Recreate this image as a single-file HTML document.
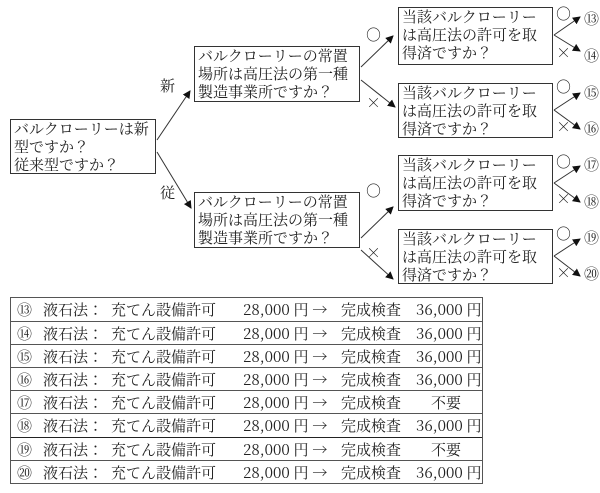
<!DOCTYPE html>
<html><head><meta charset="utf-8"><style>
body{margin:0;width:600px;height:493px;background:#fff;position:relative;overflow:hidden;font-family:"Noto Serif CJK JP","Noto Serif CJK SC","Liberation Serif",serif;color:#222}
.b{position:absolute;border:1px solid #333;box-sizing:border-box;font-size:15px;line-height:18px;padding:0 0 0 3px;white-space:nowrap;overflow:hidden}
.t{position:absolute;font-size:15px;line-height:16px;white-space:nowrap}
.r{position:absolute;left:0;height:23px;width:100%;font-size:15px;line-height:23px;white-space:nowrap}
.r span{position:absolute}
</style></head><body>
<svg width="600" height="493" style="position:absolute;left:0;top:0">
<defs><marker id="a" markerWidth="8" markerHeight="8" refX="7" refY="4" orient="auto" markerUnits="userSpaceOnUse"><path d="M0,0 L8,4 L0,8z" fill="#111"/></marker></defs>
<g stroke="#333" stroke-width="1" fill="none" marker-end="url(#a)">
<line x1="157" y1="140" x2="190" y2="91"/>
<line x1="157" y1="152" x2="191" y2="208"/>
<line x1="361" y1="67" x2="393" y2="36"/>
<line x1="361" y1="80" x2="395" y2="107"/>
<line x1="361" y1="238" x2="393" y2="207"/>
<line x1="361" y1="250" x2="393" y2="279"/>
<line x1="554" y1="35" x2="580" y2="17"/><line x1="554" y1="35" x2="580" y2="51"/>
<line x1="554" y1="110" x2="580" y2="93"/><line x1="554" y1="110" x2="580" y2="129"/>
<line x1="554" y1="183" x2="580" y2="166"/><line x1="554" y1="183" x2="580" y2="202"/>
<line x1="554" y1="256" x2="580" y2="239"/><line x1="554" y1="256" x2="580" y2="276"/>
</g></svg>
<div class="b" style="left:10px;top:119px;width:146px;height:55px">バルクローリーは新<br>型ですか？<br>従来型ですか？</div>
<div class="b" style="left:194px;top:46px;width:166px;height:56px">バルクローリーの常置<br>場所は高圧法の第一種<br>製造事業所ですか？</div>
<div class="b" style="left:194px;top:192px;width:166px;height:56px">バルクローリーの常置<br>場所は高圧法の第一種<br>製造事業所ですか？</div>
<div class="b" style="left:398px;top:7px;width:155px;height:58px">当該バルクローリー<br>は高圧法の許可を取<br>得済ですか？</div>
<div class="b" style="left:398px;top:83px;width:155px;height:55px">当該バルクローリー<br>は高圧法の許可を取<br>得済ですか？</div>
<div class="b" style="left:398px;top:155px;width:155px;height:56px">当該バルクローリー<br>は高圧法の許可を取<br>得済ですか？</div>
<div class="b" style="left:398px;top:229px;width:155px;height:55px">当該バルクローリー<br>は高圧法の許可を取<br>得済ですか？</div>
<div class="t" style="left:160px;top:78px">新</div>
<div class="t" style="left:160px;top:185px">従</div>
<div class="t" style="left:366px;top:27px">○</div>
<div class="t" style="left:366px;top:95px">×</div>
<div class="t" style="left:366px;top:183px">○</div>
<div class="t" style="left:366px;top:245px">×</div>
<div class="t" style="left:556px;top:6px">○</div><div class="t" style="left:556px;top:45px">×</div>
<div class="t" style="left:556px;top:79px">○</div><div class="t" style="left:556px;top:119px">×</div>
<div class="t" style="left:556px;top:154px">○</div><div class="t" style="left:556px;top:191px">×</div>
<div class="t" style="left:556px;top:226px">○</div><div class="t" style="left:556px;top:265px">×</div>
<div class="t" style="left:584px;top:11px">⑬</div><div class="t" style="left:584px;top:48px">⑭</div>
<div class="t" style="left:584px;top:85px">⑮</div><div class="t" style="left:584px;top:121px">⑯</div>
<div class="t" style="left:584px;top:157px">⑰</div><div class="t" style="left:584px;top:194px">⑱</div>
<div class="t" style="left:584px;top:230px">⑲</div><div class="t" style="left:584px;top:266px">⑳</div>
<div style="position:absolute;left:10px;top:297px;width:473px;height:187px;border:1px solid #555;box-sizing:border-box">
<div class="r" style="top:0"><span style="left:6px">⑬</span><span style="left:32px">液石法：</span><span style="left:100px">充てん設備許可</span><span style="left:232px">28,000 円 →</span><span style="left:330px">完成検査</span><span style="left:405px">36,000 円</span></div>
<div class="r" style="top:23px;border-top:1px solid #555"><span style="left:6px">⑭</span><span style="left:32px">液石法：</span><span style="left:100px">充てん設備許可</span><span style="left:232px">28,000 円 →</span><span style="left:330px">完成検査</span><span style="left:405px">36,000 円</span></div>
<div class="r" style="top:46px;border-top:1px solid #555"><span style="left:6px">⑮</span><span style="left:32px">液石法：</span><span style="left:100px">充てん設備許可</span><span style="left:232px">28,000 円 →</span><span style="left:330px">完成検査</span><span style="left:405px">36,000 円</span></div>
<div class="r" style="top:69px;border-top:1px solid #555"><span style="left:6px">⑯</span><span style="left:32px">液石法：</span><span style="left:100px">充てん設備許可</span><span style="left:232px">28,000 円 →</span><span style="left:330px">完成検査</span><span style="left:405px">36,000 円</span></div>
<div class="r" style="top:92px;border-top:1px solid #555"><span style="left:6px">⑰</span><span style="left:32px">液石法：</span><span style="left:100px">充てん設備許可</span><span style="left:232px">28,000 円 →</span><span style="left:330px">完成検査</span><span style="left:420px">不要</span></div>
<div class="r" style="top:115px;border-top:1px solid #555"><span style="left:6px">⑱</span><span style="left:32px">液石法：</span><span style="left:100px">充てん設備許可</span><span style="left:232px">28,000 円 →</span><span style="left:330px">完成検査</span><span style="left:405px">36,000 円</span></div>
<div class="r" style="top:139px;border-top:1px solid #222"><span style="left:6px">⑲</span><span style="left:32px">液石法：</span><span style="left:100px">充てん設備許可</span><span style="left:232px">28,000 円 →</span><span style="left:330px">完成検査</span><span style="left:420px">不要</span></div>
<div class="r" style="top:162px;border-top:1px solid #555"><span style="left:6px">⑳</span><span style="left:32px">液石法：</span><span style="left:100px">充てん設備許可</span><span style="left:232px">28,000 円 →</span><span style="left:330px">完成検査</span><span style="left:405px">36,000 円</span></div>
</div>
</body></html>
